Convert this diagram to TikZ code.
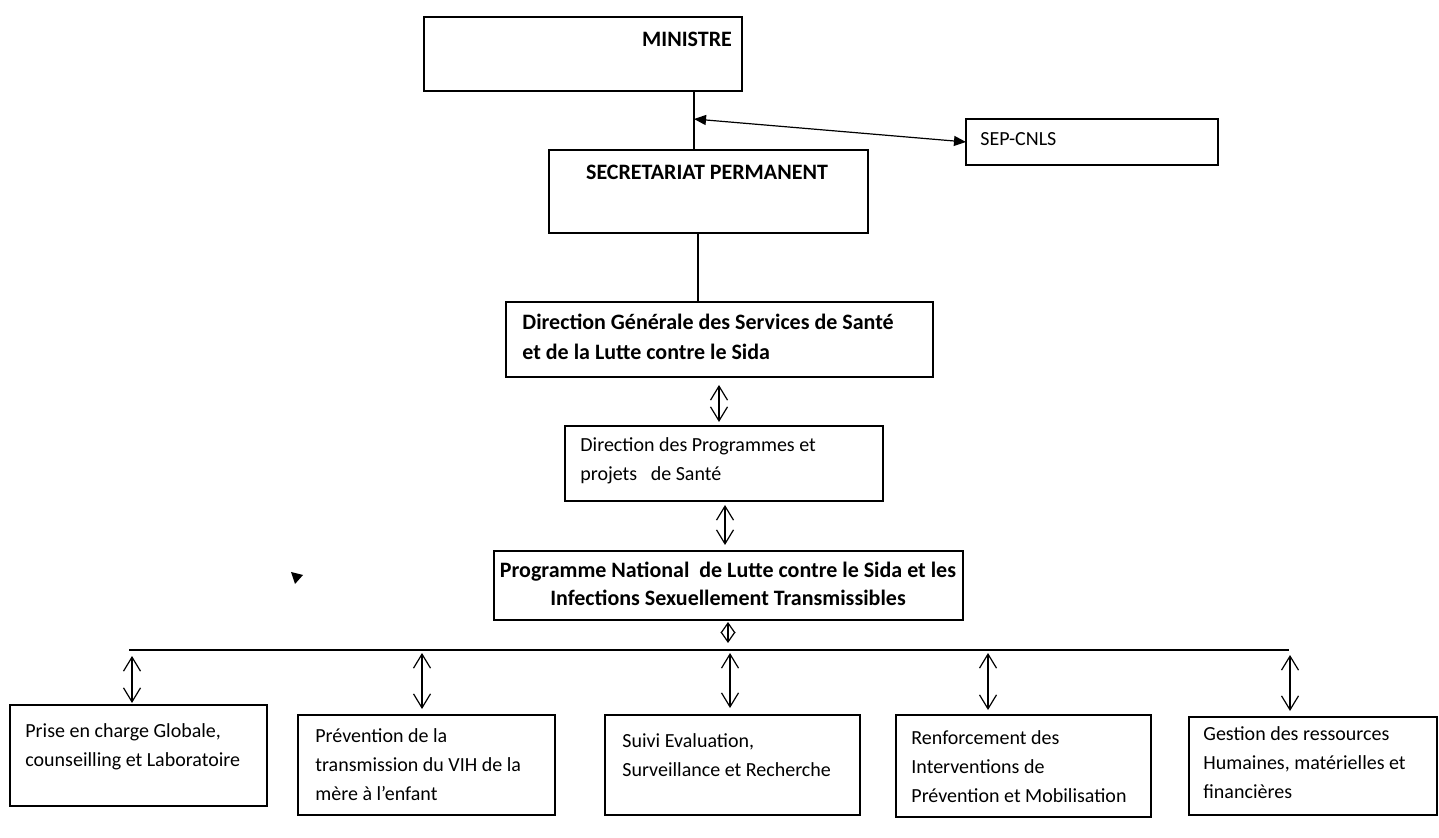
\documentclass[tikz,border=0pt]{standalone}
\usepackage{fontspec}
\setmainfont{Carlito}
\usetikzlibrary{arrows.meta}
\begin{document}
\begin{tikzpicture}[x=0.5pt,y=-0.5pt,
  box/.style={draw, line width=0.9pt, inner sep=0pt, outer sep=0pt},
  txt/.style={inner sep=0pt, anchor=base west, align=left, font=\fontsize{10}{14.5}\selectfont},
  btxt/.style={inner sep=0pt, align=left, font=\bfseries\fontsize{11}{15}\selectfont},
  conn/.style={line width=0.7pt},
  busline/.style={line width=0.85pt},
  dbl/.style={line width=0.6pt, {Straight Barb[length=7pt,width=8.5pt]}-{Straight Barb[length=7pt,width=8.5pt]}},
  smalldbl/.style={line width=0.6pt, {Straight Barb[length=5pt,width=7pt]}-{Straight Barb[length=5pt,width=7pt]}},
  filledarr/.style={line width=0.6pt, {Triangle[length=6pt,width=5pt]}-{Triangle[length=6pt,width=5pt]}}
]
\useasboundingbox[fill=white] (0,0) rectangle (1439,838);

% boxes
\node[box, minimum width=159pt, minimum height=37pt] (min) at (583,54) {};
\node[box, minimum width=126pt, minimum height=23pt] (sep) at (1092,142) {};
\node[box, minimum width=159.5pt, minimum height=41.5pt] (sp) at (708.5,191.5) {};
\node[box, minimum width=213.5pt, minimum height=37.5pt] (dg) at (719.5,339.5) {};
\node[box, minimum width=159pt, minimum height=37.5pt] (dp) at (724,463.5) {};
\node[box, minimum width=234.5pt, minimum height=34.5pt] (pn) at (728.5,585.5) {};
\node[box, minimum width=128.5pt, minimum height=50.5pt] (b1) at (138.5,755.5) {};
\node[box, minimum width=128.5pt, minimum height=50pt] (b2) at (426.5,765) {};
\node[box, minimum width=127.5pt, minimum height=50pt] (b3) at (732.5,765) {};
\node[box, minimum width=127.5pt, minimum height=51pt] (b4) at (1023.5,766) {};
\node[box, minimum width=124pt, minimum height=49pt] (b5) at (1313,766) {};

% texts (multi-line nodes: base anchor = baseline of the last line)
\node[btxt, anchor=base] (tmin) at (687,47) {MINISTRE};
\node[txt] (tsep) at (980,146) {SEP-CNLS};
\node[btxt, anchor=base] (tsp) at (707,180) {SECRETARIAT PERMANENT};
\node[btxt, anchor=base west] (tdg) at (522,360) {Direction Générale des Services de Santé\\et de la Lutte contre le Sida};
\node[txt] (tdp) at (580,481) {Direction des Programmes et\\projets\ \ \ de Santé};
\node[btxt, anchor=base, align=center, font=\bfseries\fontsize{11}{14}\selectfont] (tpn) at (728,606) {Programme National\ \ de Lutte contre le Sida et les\\Infections Sexuellement Transmissibles};
\node[txt] (tb1) at (25,766) {Prise en charge Globale,\\counseilling et Laboratoire};
\node[txt] (tb2) at (315,800) {Prévention de la\\transmission du VIH de la\\mère à l’enfant};
\node[txt] (tb3) at (622,776) {Suivi Evaluation,\\Surveillance et Recherche};
\node[txt] (tb4) at (911,802) {Renforcement des\\Interventions de\\Prévention et Mobilisation};
\node[txt] (tb5) at (1203,798) {Gestion des ressources\\Humaines, matérielles et\\financières};

% connectors
\coordinate (c1) at (694,0);
\draw[conn] (c1 |- min.south) -- (c1 |- sp.north);
\coordinate (j1) at (694,119);
\draw[filledarr] (j1) -- (sep.west);
\coordinate (c2) at (698,0);
\draw[conn] (c2 |- sp.south) -- (c2 |- dg.north);
\coordinate (c3) at (719,0);
\draw[dbl, shorten <=4pt, shorten >=2pt] (c3 |- dg.south) -- (c3 |- dp.north);
\coordinate (c4) at (725,0);
\draw[dbl, shorten <=2pt, shorten >=3pt] (c4 |- dp.south) -- (c4 |- pn.north);
\coordinate (busL) at (129,650);
\coordinate (busR) at (1289,650);
\draw[busline] (busL) -- (busR);
\coordinate (c5) at (728,0);
\draw[smalldbl, shorten <=1pt, shorten >=3.5pt] (c5 |- pn.south) -- (c5 |- busL);
\coordinate (d1) at (132,0);
\coordinate (d2) at (422,0);
\coordinate (d3) at (730,0);
\coordinate (d4) at (988,0);
\coordinate (d5) at (1290,0);
\draw[dbl, shorten <=3pt, shorten >=1pt] (d1 |- busL) -- (d1 |- b1.north);
\draw[dbl, shorten <=1.5pt, shorten >=3pt] (d2 |- busL) -- (d2 |- b2.north);
\draw[dbl, shorten <=1.5pt, shorten >=3.5pt] (d3 |- busL) -- (d3 |- b3.north);
\draw[dbl, shorten <=1.5pt, shorten >=2.5pt] (d4 |- busL) -- (d4 |- b4.north);
\draw[dbl, shorten <=2.5pt, shorten >=3pt] (d5 |- busL) -- (d5 |- b5.north);

% stray mark
\fill (291,572) -- (303,575) -- (295,584) -- cycle;
\end{tikzpicture}
\end{document}
